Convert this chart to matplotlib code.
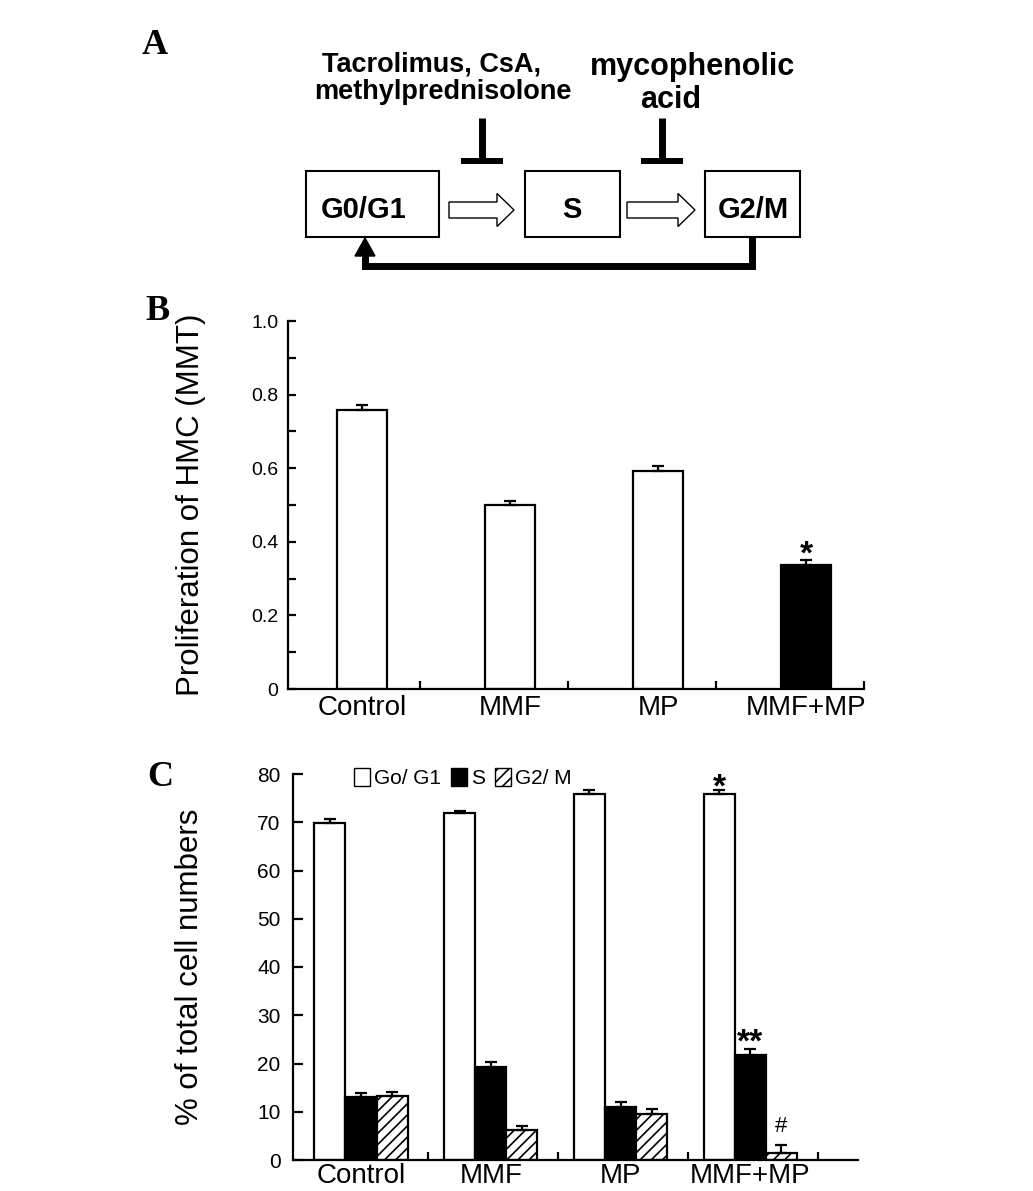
import matplotlib
matplotlib.use("Agg")
import matplotlib.pyplot as plt
import matplotlib.patches as mpatches
import numpy as np

plt.rcParams['font.family'] = ['Liberation Sans', 'DejaVu Sans']
plt.rcParams['hatch.linewidth'] = 1.2

# panel B: MTT proliferation
groups = ["Control", "MMF", "MP", "MMF+MP"]
mtt_mean = [0.759, 0.499, 0.593, 0.336]
mtt_err = [0.013, 0.012, 0.013, 0.014]

# panel C: cell cycle phases (%)
phases = ["Go/ G1", "S", "G2/ M"]
g0g1_mean = [69.8, 71.9, 75.9, 75.9]
g0g1_err = [0.8, 0.5, 0.8, 0.8]
s_mean = [13.1, 19.3, 11.0, 21.8]
s_err = [0.8, 1.0, 1.0, 1.2]
g2m_mean = [13.3, 6.2, 9.5, 1.4]
g2m_err = [0.8, 0.8, 1.0, 1.7]

W, H = 1033, 1191
fig = plt.figure(figsize=(W / 100, H / 100), dpi=100)


def px_axes(l, t, r, b):
    '''axes from pixel box (left, top, right, bottom)'''
    return fig.add_axes([l / W, 1 - b / H, (r - l) / W, (b - t) / H])


def style_axes(ax):
    for s in ['top', 'right']:
        ax.spines[s].set_visible(False)
    for s in ['left', 'bottom']:
        ax.spines[s].set_linewidth(1.6)


# ---------- panel A: the scheme ----------
ax0 = fig.add_axes([0, 0, 1, 1])
ax0.set_xlim(0, W)
ax0.set_ylim(H, 0)
ax0.axis('off')

boxes = [(306, 171, 439, 237, 'G0/G1', 364),
         (525, 171, 620, 237, 'S', 572),
         (705, 171, 800, 237, 'G2/M', 753)]
for l, t, r, b, lab, cx in boxes:
    ax0.add_patch(mpatches.Rectangle((l, t), r - l, b - t, fill=False,
                                     ec='black', lw=1.5))
    ax0.text(cx, 218, lab, ha='center', va='baseline', fontsize=21,
             fontweight='bold')

for x0, x1 in [(449, 514), (627, 695)]:
    ax0.add_patch(mpatches.FancyArrow(x0, 210, x1 - x0, 0, width=16,
                                      head_width=33, head_length=17,
                                      length_includes_head=True,
                                      fc='white', ec='black', lw=1.0))

for xc in [482, 662]:
    ax0.plot([xc, xc], [118, 158], color='black', lw=5, solid_capstyle='butt')
    ax0.plot([xc - 21, xc + 21], [160.5, 160.5], color='black', lw=4.3,
             solid_capstyle='butt')

ax0.plot([752, 752, 365, 365], [237, 266, 266, 254], color='black', lw=5,
         solid_joinstyle='miter', solid_capstyle='butt')
ax0.add_patch(mpatches.Polygon([(355, 256), (375, 256), (365, 238)],
                               closed=True, fc='black', ec='black', lw=1))

ax0.text(432, 71, 'Tacrolimus, CsA,', ha='center', va='baseline',
         fontsize=19.5, fontweight='bold')
ax0.text(443, 99, 'methylprednisolone', ha='center', va='baseline',
         fontsize=19.5, fontweight='bold')
ax0.text(693, 75, 'mycophenolic', ha='center', va='baseline',
         fontsize=22, fontweight='bold')
ax0.text(671, 108, 'acid', ha='center', va='baseline',
         fontsize=22, fontweight='bold')

for lab, x, y in [('A', 155, 45), ('B', 158, 312), ('C', 160, 777)]:
    ax0.text(x, y, lab, ha='center', va='center', fontsize=26,
             fontweight='bold', family=['Liberation Serif', 'DejaVu Serif'])

# ---------- panel B ----------
axb = px_axes(288, 321, 864, 689)
xb = np.arange(len(groups))
colors_b = ['white', 'white', 'white', 'black']
axb.bar(xb, mtt_mean, width=0.335, color=colors_b, edgecolor='black',
        linewidth=1.6, zorder=2)
axb.errorbar(xb, mtt_mean, yerr=[np.zeros(len(groups)), mtt_err], fmt='none',
             ecolor='black', elinewidth=1.6, capsize=4, capthick=1.6, zorder=3)
style_axes(axb)
axb.set_xlim(-0.5, 3.39)
axb.set_ylim(0, 1.0)
axb.set_yticks([0, 0.2, 0.4, 0.6, 0.8, 1.0])
axb.set_yticklabels(['0', '0.2', '0.4', '0.6', '0.8', '1.0'])
axb.set_yticks(np.arange(0.1, 1.0, 0.2), minor=True)
axb.tick_params(axis='y', which='both', direction='in', length=6, width=1.6,
                labelsize=14, pad=7)
axb.set_xticks(xb)
axb.set_xticklabels(groups)
axb.set_xticks(xb + 0.39, minor=True)
axb.tick_params(axis='x', which='major', length=0, labelsize=20, pad=4)
axb.tick_params(axis='x', which='minor', direction='in', length=6, width=1.6)
axb.set_ylabel('Proliferation of HMC (MMT)', fontsize=22.5)
axb.yaxis.set_label_coords(-0.142, 0.5)
axb.text(3, mtt_mean[3] + mtt_err[3] - 0.008, '*', ha='center',
         va='baseline', fontsize=24, fontweight='bold')

# ---------- panel C ----------
axc = px_axes(293, 774, 858, 1160)
xc = np.arange(len(groups))
bw = 0.24
b0 = axc.bar(xc - bw, g0g1_mean, width=bw, color='white', edgecolor='black',
             linewidth=1.6, zorder=2)
b1 = axc.bar(xc, s_mean, width=bw, color='black', edgecolor='black',
             linewidth=1.6, zorder=2)
b2 = axc.bar(xc + bw, g2m_mean, width=bw, color='white', edgecolor='black',
             hatch='///', linewidth=1.6, zorder=2)
zero = np.zeros(len(groups))
for off, m, e in [(-bw, g0g1_mean, g0g1_err), (0, s_mean, s_err),
                  (bw, g2m_mean, g2m_err)]:
    axc.errorbar(xc + off, m, yerr=[zero, e], fmt='none', ecolor='black',
                 elinewidth=1.6, capsize=4, capthick=1.6, zorder=3)
style_axes(axc)
axc.set_xlim(-0.524, 3.83)
axc.set_ylim(0, 80)
axc.set_yticks(range(0, 81, 10))
axc.tick_params(axis='y', direction='in', length=7, width=1.6,
                labelsize=15, pad=9)
axc.set_xticks(xc)
axc.set_xticklabels(groups)
axc.set_xticks(xc + 0.52, minor=True)
axc.tick_params(axis='x', which='major', length=0, labelsize=20, pad=2)
axc.tick_params(axis='x', which='minor', direction='in', length=6, width=1.6)
axc.set_ylabel('% of total cell numbers', fontsize=22.5)
axc.yaxis.set_label_coords(-0.156, 0.5)

leg = axc.legend(handles=[b0, b1, b2], labels=phases, ncol=3,
                 loc='upper left', bbox_to_anchor=(0.108, 1.015),
                 frameon=False, fontsize=15, handlelength=0.75,
                 handleheight=0.9, handletextpad=0.2, columnspacing=0.5,
                 borderpad=0, borderaxespad=0)
for p in leg.get_patches():
    p.set_linewidth(1.0)

axc.text(3 - bw, g0g1_mean[3] + g0g1_err[3] - 1.3, '*', ha='center',
         va='baseline', fontsize=24, fontweight='bold', clip_on=False)
axc.text(3, s_mean[3] + s_err[3] - 0.6, '**', ha='center', va='baseline',
         fontsize=24, fontweight='bold')
axc.text(3 + bw, g2m_mean[3] + g2m_err[3] + 2.6, '#', ha='center',
         va='baseline', fontsize=16)

fig.savefig('out.png', dpi=100)
